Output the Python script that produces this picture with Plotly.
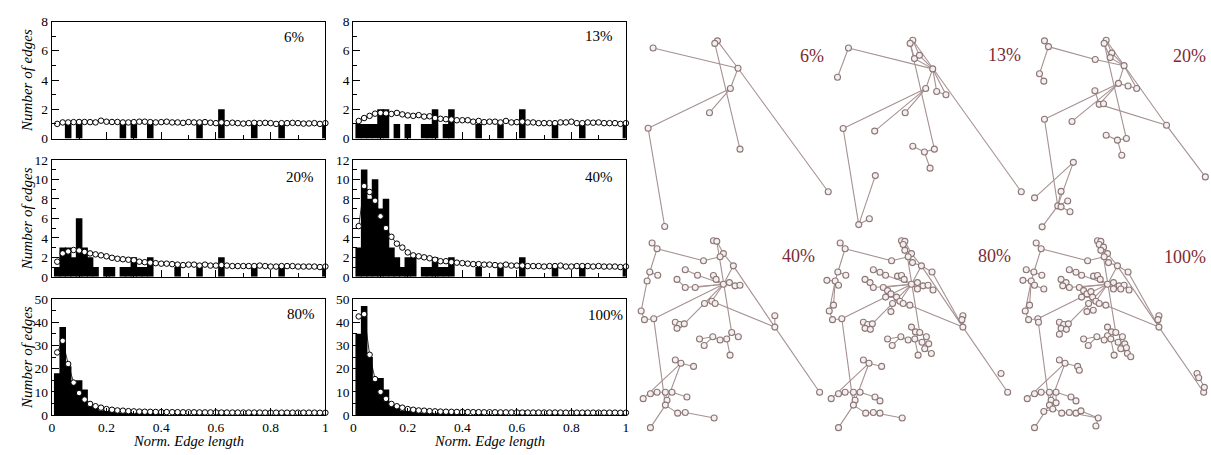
import plotly.graph_objects as go

# ------------------------------------------------------------------
# Edge-length histograms (bin centres every 0.02) and smoothed counts
# ------------------------------------------------------------------
fit_x = [0.02, 0.04, 0.06, 0.08, 0.10, 0.12, 0.14, 0.16, 0.18, 0.20,
         0.22, 0.24, 0.26, 0.28, 0.30, 0.32, 0.34, 0.36, 0.38, 0.40,
         0.42, 0.44, 0.46, 0.48, 0.50, 0.52, 0.54, 0.56, 0.58, 0.60,
         0.62, 0.64, 0.66, 0.68, 0.70, 0.72, 0.74, 0.76, 0.78, 0.80,
         0.82, 0.84, 0.86, 0.88, 0.90, 0.92, 0.94, 0.96, 0.98, 1.00]

bars_6_x = [0.06, 0.10, 0.26, 0.30, 0.36, 0.54, 0.62, 0.74, 0.84, 1.00]
bars_6_y = [1, 1, 1, 1, 1, 1, 2, 1, 1, 1]
fit_6 = [1.00, 1.10, 1.10, 1.12, 1.13, 1.13, 1.12, 1.10, 1.22, 1.15,
         1.13, 1.13, 1.10, 1.10, 1.12, 1.15, 1.15, 1.12, 1.10, 1.12,
         1.15, 1.10, 1.10, 1.07, 1.12, 1.10, 1.10, 1.12, 1.08, 1.05,
         1.10, 1.05, 1.08, 1.05, 1.02, 1.05, 1.07, 1.05, 1.07, 1.05,
         1.00, 1.05, 1.05, 1.07, 1.05, 1.02, 1.03, 1.05, 1.00, 1.05]

bars_13_x = [0.02, 0.04, 0.06, 0.08, 0.10, 0.12, 0.16, 0.20, 0.26, 0.28,
             0.30, 0.34, 0.36, 0.46, 0.54, 0.62, 0.74, 0.84, 1.00]
bars_13_y = [1, 1, 1, 1, 2, 2, 1, 1, 1, 1, 2, 1, 2, 1, 1, 2, 1, 1, 1]
fit_13 = [1.20, 1.40, 1.55, 1.70, 1.75, 1.72, 1.68, 1.75, 1.65, 1.58,
          1.55, 1.60, 1.50, 1.52, 1.40, 1.35, 1.32, 1.30, 1.25, 1.25,
          1.25, 1.15, 1.20, 1.12, 1.15, 1.15, 1.10, 1.20, 1.10, 1.12,
          1.15, 1.10, 1.10, 1.05, 1.05, 1.05, 1.05, 1.10, 1.10, 1.15,
          1.05, 1.05, 1.10, 1.08, 1.10, 1.05, 1.05, 1.05, 1.00, 1.05]

bars_20_x = [0.02, 0.04, 0.06, 0.08, 0.10, 0.12, 0.14, 0.16, 0.20, 0.22,
             0.26, 0.28, 0.30, 0.32, 0.34, 0.36, 0.46, 0.54, 0.62, 0.74,
             0.84, 1.00]
bars_20_y = [1, 3, 3, 2, 6, 3, 2, 1, 1, 1, 1, 1, 2, 1, 1, 2, 1, 1, 2, 1, 1, 1]
fit_20 = [1.55, 2.40, 2.60, 2.75, 2.70, 2.55, 2.40, 2.30, 2.20, 2.10,
          1.95, 1.85, 1.80, 1.75, 1.70, 1.55, 1.50, 1.45, 1.40, 1.35,
          1.35, 1.30, 1.25, 1.20, 1.25, 1.25, 1.15, 1.25, 1.15, 1.15,
          1.20, 1.15, 1.10, 1.10, 1.10, 1.10, 1.10, 1.15, 1.10, 1.05,
          1.05, 1.10, 1.10, 1.10, 1.05, 1.05, 1.05, 1.05, 1.00, 1.05]

bars_40_x = [0.02, 0.04, 0.06, 0.08, 0.10, 0.12, 0.14, 0.16, 0.18, 0.20,
             0.22, 0.26, 0.28, 0.30, 0.32, 0.34, 0.36, 0.46, 0.54, 0.62,
             0.74, 0.84, 1.00]
bars_40_y = [3, 11, 8, 10, 7, 8, 3, 2, 1, 2, 2, 1, 1, 2, 1, 1, 2, 1, 1, 2, 1, 1, 1]
fit_40 = [5.2, 9.3, 8.7, 7.8, 6.2, 5.0, 4.1, 3.4, 3.0, 2.5,
          2.2, 2.1, 2.0, 1.9, 1.75, 1.6, 1.6, 1.5, 1.45, 1.4,
          1.35, 1.3, 1.3, 1.25, 1.25, 1.2, 1.15, 1.25, 1.15, 1.15,
          1.15, 1.1, 1.1, 1.1, 1.05, 1.1, 1.1, 1.15, 1.05, 1.05,
          1.1, 1.1, 1.1, 1.05, 1.1, 1.05, 1.05, 1.05, 1.0, 1.05]

bars_80_x = [0.02, 0.04, 0.06, 0.08, 0.10, 0.12, 0.14, 0.16, 0.18, 0.20,
             0.22, 0.24, 0.26, 0.28, 0.30, 0.32, 0.34, 0.36, 0.38, 0.40,
             0.46, 0.54, 0.62, 0.74, 0.84, 1.00]
bars_80_y = [18, 38, 21, 14, 15, 11, 4, 3, 2, 3, 2, 1, 1, 1, 1, 1, 1, 1, 1, 1,
             1, 1, 2, 1, 1, 1]
fit_80 = [27, 32, 22, 14, 9.5, 6.7, 4.8, 3.8, 3.2, 2.6,
          2.3, 2.0, 1.9, 1.7, 1.6, 1.5, 1.45, 1.4, 1.35, 1.3,
          1.3, 1.25, 1.25, 1.2, 1.2, 1.2, 1.15, 1.15, 1.15, 1.15,
          1.1, 1.1, 1.1, 1.1, 1.1, 1.1, 1.1, 1.1, 1.05, 1.05,
          1.05, 1.05, 1.05, 1.05, 1.05, 1.05, 1.05, 1.05, 1.0, 1.0]

bars_100_x = [0.02, 0.04, 0.06, 0.08, 0.10, 0.12, 0.14, 0.16, 0.18, 0.20,
              0.22, 0.24, 0.26, 0.28, 0.30, 0.32, 0.34, 0.36, 0.38, 0.40,
              0.46, 0.54, 0.62, 0.74, 0.84, 1.00]
bars_100_y = [35, 47, 25, 16, 16, 11, 4, 3, 2, 3, 2, 1, 1, 1, 1, 1, 1, 1, 1, 1,
              1, 1, 2, 1, 1, 1]
fit_100 = [42.5, 43.5, 26, 15.5, 10, 7, 4.8, 3.8, 3.2, 2.6,
           2.3, 2.0, 1.9, 1.7, 1.6, 1.5, 1.45, 1.4, 1.35, 1.3,
           1.3, 1.25, 1.25, 1.2, 1.2, 1.2, 1.15, 1.15, 1.15, 1.15,
           1.1, 1.1, 1.1, 1.1, 1.1, 1.1, 1.1, 1.1, 1.05, 1.05,
           1.05, 1.05, 1.05, 1.05, 1.05, 1.05, 1.05, 1.05, 1.0, 1.0]

panel_labels = ["6%", "13%", "20%", "40%", "80%", "100%"]

# ------------------------------------------------------------------
# Graph drawings: node layouts (drawing units) and edge lists
# ------------------------------------------------------------------
# 6 % snapshot
g6_x = [40, 234, 226, 296, 273, 210, 25, 302, 568, 75]
g6_y = [127, 105, 113, 190, 253, 328, 376, 441, 573, 681]
g6_edges = [(0, 3), (1, 3), (3, 8), (2, 7), (3, 4), (4, 5), (4, 6), (6, 9), (1, 2)]

# 13 % snapshot
g13_x = [56, 89, 283, 275, 288, 303, 343, 355, 383, 322, 260, 168, 73, 348, 283,
         318, 335, 610, 120, 152, 170]
g13_y = [218, 127, 103, 113, 160, 150, 192, 262, 272, 253, 328, 385, 377, 441, 432,
         450, 500, 573, 675, 657, 523]
g13_edges = [(1, 0), (1, 6), (2, 5), (5, 6), (3, 4), (4, 6), (2, 17), (3, 13),
             (6, 9), (6, 7), (7, 8), (6, 8), (9, 12), (9, 10), (9, 11), (12, 18),
             (18, 20), (18, 19), (13, 15), (14, 15), (15, 16), (2, 3)]

# 20 % snapshot
g20_x = [110, 122, 95, 108, 296, 290, 263, 313, 308, 350, 333, 362, 388, 262, 275,
         288, 110, 193, 478, 296, 330, 357, 343, 595, 197, 80, 160, 150, 180, 160,
         187, 103]
g20_y = [105, 123, 207, 230, 103, 113, 163, 143, 157, 182, 237, 245, 253, 260, 302,
         300, 348, 355, 367, 398, 413, 408, 460, 527, 482, 592, 572, 617, 602, 620,
         635, 682]
g20_edges = [(0, 1), (1, 2), (2, 3), (1, 6), (6, 9), (4, 7), (7, 9), (5, 8), (8, 9),
             (4, 18), (18, 23), (5, 21), (9, 10), (10, 11), (11, 12), (9, 12),
             (10, 14), (13, 14), (14, 15), (14, 18), (10, 16), (10, 17), (16, 27),
             (24, 25), (24, 27), (27, 26), (27, 28), (27, 29), (29, 30), (27, 31),
             (19, 20), (20, 21), (20, 22), (4, 5)]

# 40 / 80 / 100 % snapshots share one layout; each node carries the
# snapshot (in %) at which it first appears.
net_x = [85, 100, 55, 78, 102, 45, 70, 80, 108, 65, 52, 62, 90, 92,
         270, 280, 275, 288, 280, 300, 290, 240, 303, 330, 362,
         185, 205, 222, 160, 175, 165, 185, 258, 270, 278,
         300, 318, 335, 350, 365, 318, 340,
         215, 228, 238, 250, 222, 255, 265, 243, 275, 295, 238, 257,
         155, 168, 182, 160, 176, 155,
         455, 452, 455,
         300, 312, 300, 325, 345, 228, 268, 290, 310, 332, 352, 242, 340, 357,
         320, 360, 370,
         155, 172, 210, 215, 58, 80, 100, 125, 145, 130, 145, 125, 190, 205,
         135, 108, 162, 185, 205, 220, 272, 265, 80,
         570, 575, 590, 592]
net_y = [57, 75, 140, 147, 157, 173, 175, 188, 200, 250, 268, 295, 292, 303,
         50, 52, 62, 70, 80, 90, 100, 112, 118, 128, 147,
         140, 148, 157, 170, 180, 190, 195, 160, 158, 170,
         185, 180, 190, 188, 203, 200, 200,
         195, 205, 215, 208, 225, 225, 238, 245, 245, 250, 270, 266,
         303, 310, 308, 322, 325, 340,
         283, 295, 318,
         318, 333, 345, 335, 348, 355, 348, 358, 355, 365, 370, 375, 385, 382,
         405, 400, 410,
         420, 430, 440, 452, 540, 525, 520, 520, 520, 545, 553, 560, 535, 547,
         572, 580, 585, 583, 585, 578, 600, 625, 630,
         462, 475, 520, 505]
net_stage = [40, 40, 100, 40, 40, 80, 40, 80, 100, 80, 40, 40, 40, 100,
             40, 40, 80, 100, 80, 40, 40, 40, 80, 40, 80,
             40, 80, 40, 40, 80, 100, 40, 80, 40, 40,
             40, 40, 40, 40, 80, 80, 100,
             40, 80, 80, 100, 80, 80, 40, 40, 40, 80, 80, 100,
             40, 40, 40, 40, 80, 100,
             40, 80, 40,
             80, 80, 100, 40, 40, 40, 40, 40, 40, 80, 80, 40, 80, 100,
             40, 80, 100,
             40, 40, 40, 100, 40, 40, 40, 40, 40, 40, 100, 40, 40, 80,
             100, 100, 40, 40, 80, 100, 40, 100, 40,
             80, 100, 40, 100]
# edges given with 1-based node numbers
net_edges = [(1, 2), (2, 4), (4, 3), (4, 5), (4, 7), (7, 6), (7, 8), (8, 9), (7, 10),
             (10, 11), (7, 11), (11, 12), (12, 13), (13, 14), (2, 22), (22, 21),
             (15, 16), (16, 17), (17, 18), (17, 19), (19, 20), (20, 21), (16, 20),
             (20, 24), (24, 25), (25, 63), (24, 63), (63, 106), (106, 107),
             (107, 104), (104, 105), (23, 24), (21, 23), (16, 67),
             (24, 36), (36, 37), (37, 38), (38, 39), (39, 40), (36, 41), (41, 42),
             (36, 35), (35, 34), (34, 33), (36, 28), (28, 27), (27, 26), (28, 26),
             (36, 32), (32, 29), (29, 30), (30, 31), (36, 43), (43, 44), (44, 45),
             (45, 46), (44, 47), (47, 48), (48, 49), (36, 49), (49, 50), (49, 51),
             (51, 52), (50, 53), (53, 54), (36, 13), (36, 57), (49, 63), (61, 63),
             (61, 62), (62, 63),
             (57, 56), (56, 55), (55, 58), (58, 59), (58, 60),
             (67, 65), (65, 64), (65, 66), (67, 68), (67, 72), (72, 71), (71, 70),
             (70, 69), (70, 75), (72, 73), (73, 74), (73, 76), (76, 77), (72, 78),
             (76, 79), (79, 80),
             (13, 92), (81, 82), (82, 83), (83, 84), (82, 85), (82, 92), (92, 90),
             (90, 88), (88, 87), (87, 86), (92, 91), (91, 89), (88, 89), (89, 93),
             (93, 94), (92, 95), (95, 96), (92, 97), (97, 98), (98, 99), (99, 100),
             (100, 101), (98, 101), (101, 102), (92, 103)]

# ------------------------------------------------------------------
FIG_W, FIG_H = 1211, 455
SERIF = "'Liberation Serif', 'Times New Roman', Times, serif"
LABEL_RED = "#7b2c32"
EDGE_COL = "#a69191"
NODE_LINE = "#8c7676"
NODE_FILL = "#f5f0f0"


def fx(p):
    return p / FIG_W


def fy(p):
    return 1 - p / FIG_H


fig = go.Figure()
layout = {}
annotations = []

hist_cols = [(49, 324), (352, 626)]
hist_rows = [(15, 136), (158, 279), (302, 422)]
hist_panels = [
    (0, 0, bars_6_x, bars_6_y, fit_6, 8, 2, 1, (292, 31)),
    (1, 0, bars_13_x, bars_13_y, fit_13, 8, 2, 1, (599, 30)),
    (0, 1, bars_20_x, bars_20_y, fit_20, 12, 2, 1, (298, 176)),
    (1, 1, bars_40_x, bars_40_y, fit_40, 12, 2, 1, (599, 176)),
    (0, 2, bars_80_x, bars_80_y, fit_80, 50, 10, 5, (299, 317)),
    (1, 2, bars_100_x, bars_100_y, fit_100, 50, 10, 5, (605, 318)),
]

tickfont = dict(family=SERIF, size=13.5, color="black")

for k, (col, row, bx, by, fit, ymax, ydt, ymin_dt, lab_pos) in enumerate(hist_panels, start=1):
    sfx = "" if k == 1 else str(k)
    x0, x1 = hist_cols[col]
    y0, y1 = hist_rows[row]
    layout["xaxis" + sfx] = dict(
        domain=[fx(x0), fx(x1)], range=[0, 1], anchor="y" + sfx,
        showline=True, mirror=True, linecolor="black", linewidth=1,
        ticks="inside", ticklen=7, tickwidth=1, tickcolor="black",
        tick0=0, dtick=0.2, showticklabels=(row == 2), tickfont=tickfont,
        minor=dict(ticks="inside", ticklen=4, tickwidth=1, tickcolor="black",
                   tick0=0, dtick=0.1),
        showgrid=False, zeroline=False, fixedrange=True,
    )
    layout["yaxis" + sfx] = dict(
        domain=[fy(y1), fy(y0)], range=[0, ymax], anchor="x" + sfx,
        showline=True, mirror=True, linecolor="black", linewidth=1,
        ticks="inside", ticklen=7, tickwidth=1, tickcolor="black",
        tick0=0, dtick=ydt, tickfont=tickfont,
        minor=dict(ticks="inside", ticklen=4, tickwidth=1, tickcolor="black",
                   tick0=0, dtick=ymin_dt),
        showgrid=False, zeroline=False, fixedrange=True,
    )
    fig.add_trace(go.Bar(
        x=bx, y=by, width=0.024, marker=dict(color="black", line=dict(width=0)),
        xaxis="x" + sfx, yaxis="y" + sfx, showlegend=False, hoverinfo="skip",
    ))
    fig.add_trace(go.Scatter(
        x=fit_x, y=fit, mode="lines+markers",
        line=dict(color="black", width=0.8),
        marker=dict(symbol="circle", size=5.5, color="white",
                    line=dict(color="black", width=1)),
        cliponaxis=False, xaxis="x" + sfx, yaxis="y" + sfx,
        showlegend=False, hoverinfo="skip",
    ))
    annotations.append(dict(
        text=panel_labels[k - 1], x=fx(lab_pos[0]), y=fy(lab_pos[1]),
        xref="paper", yref="paper", xanchor="center", yanchor="middle",
        showarrow=False, font=dict(family=SERIF, size=15, color="black"),
    ))

# axis titles
for (y0, y1) in hist_rows:
    annotations.append(dict(
        text="<i>Number of edges</i>", x=fx(24), y=fy((y0 + y1) / 2),
        xref="paper", yref="paper", textangle=-90, showarrow=False,
        xanchor="center", yanchor="middle",
        font=dict(family=SERIF, size=15, color="black"),
    ))
for (x0, x1) in hist_cols:
    annotations.append(dict(
        text="<i>Norm. Edge length</i>", x=fx((x0 + x1) / 2), y=0,
        xref="paper", yref="paper", showarrow=False, borderpad=0,
        xanchor="center", yanchor="bottom", yshift=-3,
        font=dict(family=SERIF, size=14.5, color="black"),
    ))

# ------------------------------------------------------------------
# Graph drawings
# ------------------------------------------------------------------
def subset(stage):
    keep = [i for i, s in enumerate(net_stage) if s <= stage]
    idx = {old: new for new, old in enumerate(keep)}
    xs = [net_x[i] for i in keep]
    ys = [net_y[i] for i in keep]
    edges = [(idx[a - 1], idx[b - 1]) for a, b in net_edges
             if (a - 1) in idx and (b - 1) in idx]
    return xs, ys, edges


s40 = subset(40)
s80 = subset(80)
s100 = subset(100)

graph_panels = [
    # xs, ys, edges, origin-x px, origin-y px, width px, height px, label, label px
    (g6_x, g6_y, g6_edges, 640, 0, 200, 235, "6%", (813, 51)),
    (g13_x, g13_y, g13_edges, 820, 0, 210, 235, "13%", (1006, 50)),
    (g20_x, g20_y, g20_edges, 1010, 0, 201, 235, "20%", (1192, 51)),
    (s40[0], s40[1], s40[2], 624, 225, 201, 230, "40%", (799, 257)),
    (s80[0], s80[1], s80[2], 813, 225, 201, 230, "80%", (996, 258)),
    (s100[0], s100[1], s100[2], 1010, 225, 201, 230, "100%", (1188, 259)),
]

for j, (xs, ys, edges, ox, oy, w, h, lab, lpos) in enumerate(graph_panels):
    k = 7 + j
    sfx = str(k)
    layout["xaxis" + sfx] = dict(domain=[fx(ox), fx(ox + w)], range=[0, 3 * w],
                                 anchor="y" + sfx, visible=False, fixedrange=True)
    layout["yaxis" + sfx] = dict(domain=[fy(oy + h), fy(oy)], range=[3 * h, 0],
                                 anchor="x" + sfx, visible=False, fixedrange=True)
    ex, ey = [], []
    for a, b in edges:
        ex += [xs[a], xs[b], None]
        ey += [ys[a], ys[b], None]
    fig.add_trace(go.Scatter(
        x=ex, y=ey, mode="lines", line=dict(color=EDGE_COL, width=1.1),
        cliponaxis=False, xaxis="x" + sfx, yaxis="y" + sfx,
        showlegend=False, hoverinfo="skip",
    ))
    fig.add_trace(go.Scatter(
        x=xs, y=ys, mode="markers",
        marker=dict(symbol="circle", size=6, color=NODE_FILL,
                    line=dict(color=NODE_LINE, width=1.1)),
        cliponaxis=False, xaxis="x" + sfx, yaxis="y" + sfx,
        showlegend=False, hoverinfo="skip",
    ))
    annotations.append(dict(
        text=lab, x=fx(lpos[0]), y=fy(lpos[1]), xref="paper", yref="paper",
        xanchor="center", yanchor="middle", showarrow=False,
        font=dict(family=SERIF, size=18, color=LABEL_RED),
    ))

fig.update_layout(
    width=FIG_W, height=FIG_H, margin=dict(l=0, r=0, t=0, b=0),
    paper_bgcolor="white", plot_bgcolor="rgba(0,0,0,0)",
    annotations=annotations, showlegend=False, barmode="overlay",
    **layout,
)

fig.write_html("out.html")
